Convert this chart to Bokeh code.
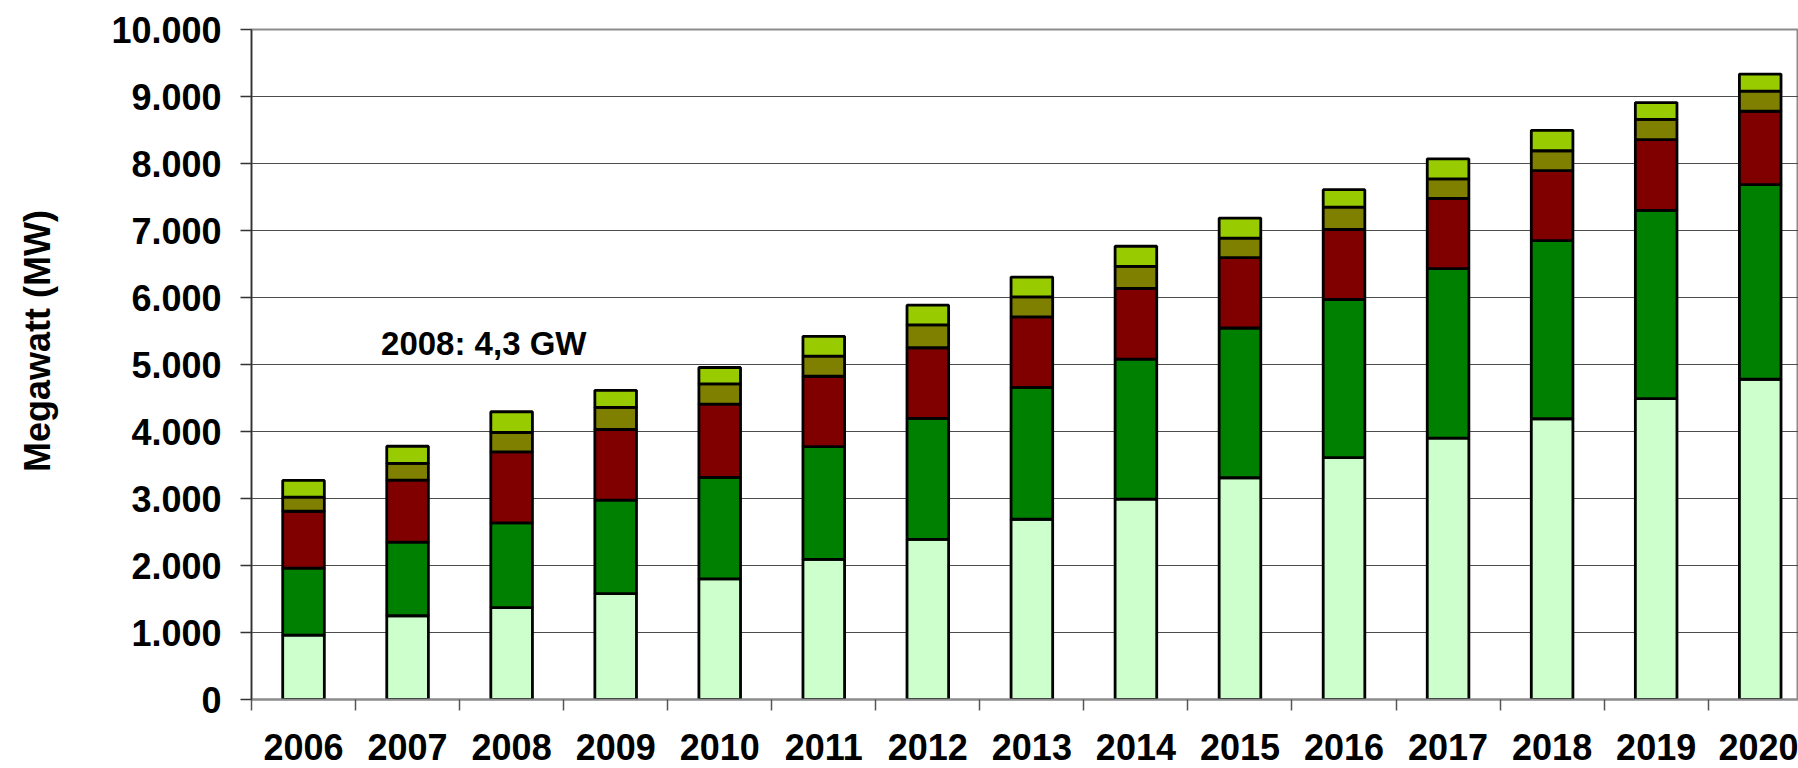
import math
from bokeh.plotting import figure
from bokeh.layouts import row
from bokeh.models import ColumnDataSource, Range1d, FixedTicker, Label
from bokeh.embed import file_html
from bokeh.resources import INLINE

# ---------------- data ----------------
years = ["2006", "2007", "2008", "2009", "2010", "2011", "2012", "2013",
         "2014", "2015", "2016", "2017", "2018", "2019", "2020"]

s1 = [960, 1250, 1370, 1580, 1800, 2090, 2390, 2690, 2990, 3310, 3610, 3900, 4190, 4490, 4780]
s2 = [1000, 1100, 1265, 1395, 1515, 1685, 1805, 1970, 2090, 2235, 2360, 2530, 2660, 2810, 2905]
s3 = [850, 925, 1060, 1055, 1095, 1050, 1055, 1050, 1055, 1050, 1045, 1050, 1045, 1055, 1095]
s4 = [210, 250, 290, 330, 300, 300, 340, 300, 330, 290, 335, 290, 295, 305, 300]
s5 = [250, 255, 310, 255, 245, 295, 295, 295, 300, 300, 260, 300, 305, 250, 255]

series_names = ["s1", "s2", "s3", "s4", "s5"]
series_colors = ["#CCFFCC", "#008000", "#800000", "#808000", "#99CC00"]

y_ticks = [0, 1000, 2000, 3000, 4000, 5000, 6000, 7000, 8000, 9000, 10000]
y_tick_labels = ["0", "1.000", "2.000", "3.000", "4.000", "5.000",
                 "6.000", "7.000", "8.000", "9.000", "10.000"]

annotation_text = "2008: 4,3 GW"
y_title = "Megawatt (MW)"

FONT = "Liberation Sans"
H = 768
TITLE_W = 60

# ---------------- narrow strip holding the vertical axis title ----------------
t = figure(width=TITLE_W, height=H, x_range=Range1d(0, TITLE_W), y_range=Range1d(0, H),
           x_axis_type=None, y_axis_type=None,
           output_backend="svg", toolbar_location=None,
           min_border_left=0, min_border_right=0, min_border_top=0, min_border_bottom=0)
t.outline_line_color = None
t.background_fill_color = "white"
t.border_fill_color = "white"
t.add_layout(Label(x=37, y=411, text=y_title, angle=math.pi / 2,
                   text_font=FONT, text_font_size="36px", text_font_style="bold",
                   text_color="black", text_align="center", text_baseline="alphabetic"))

# ---------------- main chart ----------------
xs = list(range(len(years)))
source = ColumnDataSource(dict(x=xs, s1=s1, s2=s2, s3=s3, s4=s4, s5=s5))

p = figure(width=1798 - TITLE_W, height=H,
           x_range=Range1d(-0.5, 14.368), y_range=Range1d(0, 10000),
           output_backend="svg", toolbar_location=None,
           min_border_left=251 - TITLE_W, min_border_right=0,
           min_border_top=29, min_border_bottom=69)

p.background_fill_color = "white"
p.border_fill_color = "white"
p.outline_line_color = "#8c8c8c"
p.outline_line_width = 2

p.vbar_stack(series_names, x="x", width=0.4, source=source,
             fill_color=series_colors, line_color="black", line_width=2.8)

# x axis: labels at category centres, ticks at category boundaries
p.xaxis.ticker = FixedTicker(ticks=xs, minor_ticks=[i - 0.5 for i in range(len(years) + 1)])
p.xaxis.major_label_overrides = {i: y for i, y in enumerate(years)}
p.xaxis.major_tick_line_color = None
p.xaxis.major_tick_out = 11
p.xaxis.major_tick_in = 0
p.xaxis.minor_tick_line_color = "#555555"
p.xaxis.minor_tick_line_width = 1.5
p.xaxis.minor_tick_out = 11
p.xaxis.minor_tick_in = 0
p.xaxis.axis_line_color = "#8c8c8c"
p.xaxis.axis_line_width = 2
p.xaxis.major_label_text_font = FONT
p.xaxis.major_label_text_font_size = "36px"
p.xaxis.major_label_text_font_style = "bold"
p.xaxis.major_label_text_color = "black"
p.xaxis.major_label_standoff = 23

# y axis
p.yaxis.ticker = FixedTicker(ticks=y_ticks)
p.yaxis.major_label_overrides = dict(zip(y_ticks, y_tick_labels))
p.yaxis.major_tick_out = 11
p.yaxis.major_tick_in = 0
p.yaxis.major_tick_line_color = "#333333"
p.yaxis.major_tick_line_width = 1.5
p.yaxis.minor_tick_line_color = None
p.yaxis.axis_line_color = "#333333"
p.yaxis.axis_line_width = 1.5
p.yaxis.major_label_text_font = FONT
p.yaxis.major_label_text_font_size = "36px"
p.yaxis.major_label_text_font_style = "bold"
p.yaxis.major_label_text_color = "black"
p.yaxis.major_label_standoff = 19

# grid
p.xgrid.grid_line_color = None
p.ygrid.grid_line_color = "#4d4d4d"
p.ygrid.grid_line_width = 1

# annotation
p.add_layout(Label(x=0.745, y=5310, text=annotation_text,
                   text_font=FONT, text_font_size="33px", text_font_style="bold",
                   text_color="black", text_align="left", text_baseline="alphabetic"))

layout = row(t, p, spacing=0)
open("out.html", "w").write(file_html(layout, INLINE))
